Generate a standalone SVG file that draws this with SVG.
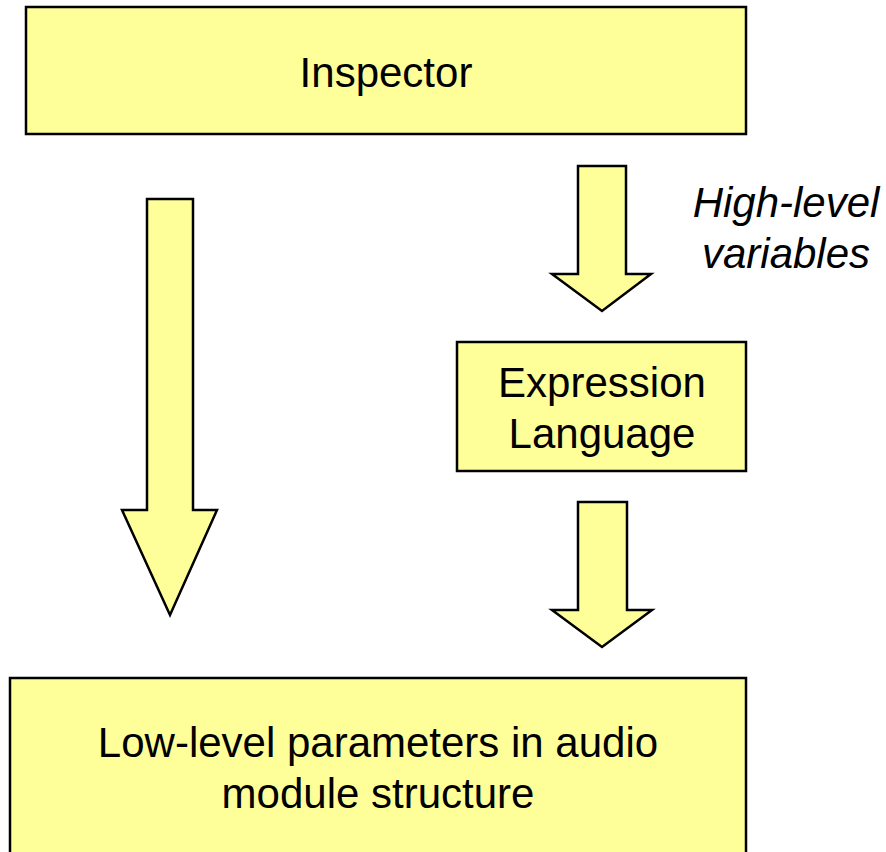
<svg xmlns="http://www.w3.org/2000/svg" width="886" height="852" viewBox="0 0 886 852">
<style>
.box{fill:#FFFF99;stroke:#000;stroke-width:2.5}
.arr{fill:#FFFF99;stroke:#000;stroke-width:2.5;stroke-linejoin:miter}
.t{font-family:"Liberation Sans",Arial,sans-serif;font-size:42px;fill:#000;text-anchor:middle}
.i{font-style:italic}
</style>
<rect width="886" height="852" fill="#fff"/>
<g id="inspector">
<rect class="box" x="26" y="7" width="720" height="127"/>
<text class="t" x="386" y="87">Inspector</text>
</g>
<g id="expression-language">
<rect class="box" x="457" y="342" width="289" height="129"/>
<text class="t" x="602" y="397">Expression</text>
<text class="t" x="602" y="448">Language</text>
</g>
<g id="low-level">
<rect class="box" x="10" y="678" width="736" height="190"/>
<text class="t" x="378" y="757">Low-level parameters in audio</text>
<text class="t" x="378" y="808">module structure</text>
</g>
<g id="connectors">
<polygon class="arr" points="147,199 193,199 193,510 217,510 170,615 122,510 147,510"/>
<polygon class="arr" points="578,166 626,166 626,274 651,274 602,311 552,274 578,274"/>
<polygon class="arr" points="578,502 627,502 627,610 652,610 602,647 552,610 578,610"/>
<text class="t i" x="786" y="217">High-level</text>
<text class="t i" x="786" y="268">variables</text>
</g>
</svg>
